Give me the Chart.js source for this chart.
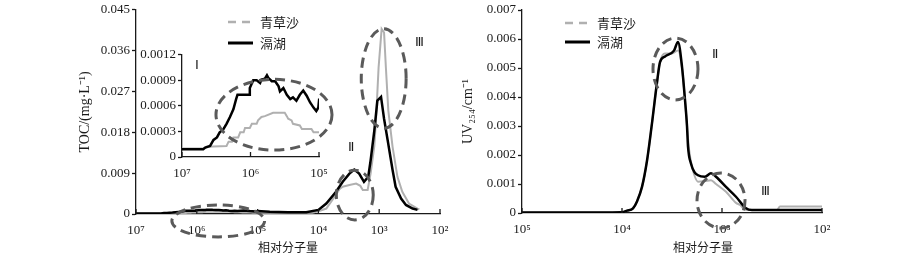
<!DOCTYPE html>
<html>
<head>
<meta charset="utf-8">
<script src="https://cdn.jsdelivr.net/npm/chart.js@4.4.1/dist/chart.umd.min.js"></script>
<style>
  body { margin: 0; background: #fff; }
  #wrap { position: relative; width: 900px; height: 260px; }
  canvas { position: absolute; }
</style>
</head>
<body>
<div id="wrap">
  <canvas id="tocChart" width="450" height="260" style="left:0;top:0"></canvas>
  <canvas id="insetChart" width="210" height="140" style="left:137px;top:45px"></canvas>
  <canvas id="uvChart" width="450" height="260" style="left:450px;top:0"></canvas>
</div>
<script>
// series names
var seriesNames = ['青草沙', '滆湖'];

// TOC, 青草沙 (log10 of relative molecular weight, value in mg/L)
var lgMwQcsToc = [7.0, 6.69, 6.64, 6.35, 6.32, 6.27, 6.25, 6.18, 6.15, 6.10, 6.08, 6.01, 5.98, 5.91, 5.89, 5.84, 5.79, 5.67, 5.50, 5.47,
  5.45, 5.40, 5.38, 5.28, 5.25, 5.11, 5.08, 5.00, 4.80, 4.40, 4.10, 4.00, 3.87, 3.75, 3.65, 3.60, 3.49, 3.38, 3.31, 3.27,
  3.19, 3.14, 3.08, 3.05, 3.01, 2.96, 2.92, 2.89, 2.85, 2.78, 2.70, 2.62, 2.51, 2.37, 2.34];
var tocQcs = [0.0001, 0.0001, 0.00012, 0.00013, 0.00018, 0.00018, 0.00023, 0.00023, 0.00029, 0.00029, 0.00034, 0.00034, 0.00039, 0.00039, 0.00043, 0.00047, 0.00048, 0.00052, 0.00052, 0.00048,
  0.00045, 0.00043, 0.00039, 0.00037, 0.00033, 0.00033, 0.00029, 0.00029, 0.0003, 0.0003, 0.0003, 0.0006, 0.0012, 0.0035, 0.0055, 0.006, 0.0064, 0.0067, 0.0062, 0.0053,
  0.0053, 0.009, 0.015, 0.0214, 0.0323, 0.0408, 0.040, 0.0323, 0.0228, 0.0148, 0.0082, 0.0049, 0.0023, 0.0012, 0.001];

// TOC, 滆湖
var lgMwGhToc = [7.0, 6.69, 6.66, 6.59, 6.54, 6.49, 6.45, 6.40, 6.35, 6.30, 6.25, 6.21, 6.19, 6.02, 6.01, 5.96, 5.91, 5.86, 5.84, 5.79,
  5.76, 5.74, 5.69, 5.64, 5.59, 5.57, 5.52, 5.47, 5.42, 5.38, 5.33, 5.28, 5.23, 5.18, 5.13, 5.08, 5.04, 5.01, 5.00, 4.80,
  4.50, 4.20, 4.00, 3.87, 3.71, 3.60, 3.49, 3.41, 3.33, 3.25, 3.18, 3.14, 3.08, 3.03, 2.97, 2.92, 2.86, 2.78, 2.73, 2.64,
  2.56, 2.45, 2.37];
var tocGh = [0.00009, 0.00009, 0.00011, 0.00013, 0.0002, 0.00023, 0.00029, 0.00032, 0.00039, 0.00047, 0.00056, 0.00068, 0.00073, 0.00073, 0.00081, 0.0009, 0.0009, 0.00087, 0.00091, 0.00092,
  0.00096, 0.00093, 0.00089, 0.00089, 0.00083, 0.00077, 0.00081, 0.00073, 0.00068, 0.0007, 0.00066, 0.00073, 0.00078, 0.00072, 0.00064, 0.00058, 0.00054, 0.00058, 0.00066, 0.0005,
  0.0004, 0.0004, 0.0009, 0.0023, 0.0049, 0.0071, 0.0089, 0.0098, 0.0089, 0.0071, 0.0082, 0.0119, 0.0184, 0.025, 0.0258, 0.021, 0.0162, 0.0097, 0.006, 0.0034,
  0.002, 0.0012, 0.0009];

// UV254, 青草沙
var lgMwQcsUv = [5.0, 4.5, 4.0, 3.95, 3.89, 3.85, 3.80, 3.75, 3.70, 3.65, 3.62, 3.57, 3.50, 3.44, 3.40, 3.37, 3.35, 3.33, 3.30, 3.24,
  3.17, 3.11, 3.06, 2.96, 2.86, 2.82, 2.76, 2.45, 2.42, 2.0];
var uvQcs = [0.00002, 0.00002, 0.00003, 0.00008, 0.00016, 0.0004, 0.0009, 0.0018, 0.0031, 0.0045, 0.0052, 0.0055, 0.0055, 0.0056, 0.005, 0.0039, 0.003, 0.0022, 0.0016, 0.00108,
  0.0011, 0.00113, 0.001, 0.00073, 0.00035, 0.00028, 0.0001, 0.0001, 0.00022, 0.00022];

// UV254, 滆湖
var lgMwGhUv = [5.0, 4.5, 4.0, 3.95, 3.89, 3.85, 3.80, 3.75, 3.70, 3.65, 3.62, 3.57, 3.48, 3.44, 3.40, 3.37, 3.35, 3.34, 3.31, 3.24,
  3.17, 3.11, 3.06, 2.96, 2.86, 2.76, 2.70, 2.0];
var uvGh = [0.00002, 0.00002, 0.00003, 0.00008, 0.00016, 0.0004, 0.0009, 0.0018, 0.0031, 0.0045, 0.0052, 0.0054, 0.0056, 0.0059, 0.00505, 0.0039, 0.003, 0.0023, 0.0017, 0.0013,
  0.00125, 0.00137, 0.00125, 0.0009, 0.00056, 0.00016, 0.0001, 0.0001];

// tick labels
var mwTicksToc = [1e7, 1e6, 1e5, 1e4, 1e3, 1e2];
var mwTicksInset = [1e7, 1e6, 1e5];
var mwTicksUv = [1e5, 1e4, 1e3, 1e2];
var tocTicks = [0, 0.009, 0.018, 0.027, 0.036, 0.045];
var insetTicks = [0, 0.0003, 0.0006, 0.0009, 0.0012];
var uvTicks = [0, 0.001, 0.002, 0.003, 0.004, 0.005, 0.006, 0.007];

var serif = '"Liberation Serif", "Times New Roman", serif';
var cjk = '"Noto Sans CJK SC", sans-serif';
var ink = '#1a1a1a';
var grey = '#b0b0b0';
var sup = ['⁰', '¹', '²', '³', '⁴', '⁵', '⁶', '⁷', '⁸', '⁹'];

function powLabel(v) { return '10' + sup[Math.round(Math.log10(v))]; }
function pts(lg, vals) { return lg.map(function (l, i) { return { x: Math.pow(10, l), y: vals[i] }; }); }

function makeSets(qcsLg, qcsVals, ghLg, ghVals, smooth) {
  return [
    { label: seriesNames[0], data: pts(qcsLg, qcsVals), borderColor: grey, borderWidth: 2, pointRadius: 0, order: 1,
      legendDash: [8, 6], cubicInterpolationMode: smooth ? 'monotone' : 'default', tension: 0 },
    { label: seriesNames[1], data: pts(ghLg, ghVals), borderColor: '#000', borderWidth: 2.5, pointRadius: 0, order: 0,
      legendDash: [], cubicInterpolationMode: smooth ? 'monotone' : 'default', tension: 0 }
  ];
}

function xScale(min, max, ticks, height, title) {
  return {
    type: 'logarithmic', reverse: true, min: min, max: max,
    afterBuildTicks: function (s) { s.ticks = ticks.map(function (v) { return { value: v }; }); },
    afterFit: function (s) { s.height = height; s.paddingLeft = 0; s.paddingRight = 0; },
    grid: { display: false, drawTicks: false },
    border: { display: true, color: ink, width: 1.3 },
    ticks: { autoSkip: false, maxRotation: 0, padding: 9, color: ink, font: { family: serif, size: 13 }, callback: powLabel },
    title: title ? { display: true, text: title, color: ink, font: { family: cjk, size: 12 }, padding: { top: 0, bottom: 1 } } : { display: false }
  };
}

function yScale(max, ticks, width, title, titlePad) {
  return {
    min: 0, max: max,
    afterBuildTicks: function (s) { s.ticks = ticks.map(function (v) { return { value: v }; }); },
    afterFit: function (s) { s.width = width; },
    grid: { drawOnChartArea: false, drawTicks: true, tickLength: 4, tickWidth: 1.3, tickColor: ink },
    border: { display: true, color: ink, width: 1.3 },
    ticks: { padding: 2, color: ink, font: { family: serif, size: 13 }, callback: function (v) { return String(v); } },
    title: title ? { display: true, text: title, color: ink, font: { family: serif, size: 14 }, padding: { top: titlePad, bottom: 0 } } : { display: false }
  };
}

// inward x ticks, dashed ellipses, roman numerals, legend
var decor = {
  id: 'decor',
  afterDatasetsDraw: function (chart, args, opts) {
    var ctx = chart.ctx, a = chart.chartArea, x = chart.scales.x, y = chart.scales.y;
    var px = function (lg) { return x.getPixelForValue(Math.pow(10, lg)); };
    ctx.save();
    ctx.strokeStyle = ink; ctx.lineWidth = 1.3;
    x.ticks.forEach(function (t) {
      var p = x.getPixelForValue(t.value);
      ctx.beginPath(); ctx.moveTo(p, a.bottom); ctx.lineTo(p, a.bottom - 5); ctx.stroke();
    });
    (opts.ellipses || []).forEach(function (e) {
      var x0 = px(e[0]), x1 = px(e[1]), y0 = y.getPixelForValue(e[2]), y1 = y.getPixelForValue(e[3]);
      ctx.beginPath();
      ctx.setLineDash([10, 6]);
      ctx.strokeStyle = '#5a5a5a'; ctx.lineWidth = 3;
      ctx.ellipse((x0 + x1) / 2, (y0 + y1) / 2, Math.abs(x1 - x0) / 2, Math.abs(y1 - y0) / 2, 0, 0, Math.PI * 2);
      ctx.stroke();
    });
    ctx.setLineDash([]);
    ctx.fillStyle = ink;
    ctx.textAlign = 'center'; ctx.textBaseline = 'middle';
    ctx.font = '13px ' + serif;
    (opts.numerals || []).forEach(function (n) {
      ctx.fillText(n[2], px(n[0]), y.getPixelForValue(n[1]));
    });
    if (opts.legend) {
      var L = opts.legend;
      chart.data.datasets.forEach(function (ds, i) {
        var ly = L.y + i * L.gap;
        ctx.beginPath();
        ctx.setLineDash(ds.legendDash);
        ctx.strokeStyle = ds.borderColor; ctx.lineWidth = ds.borderWidth + 0.5;
        ctx.moveTo(L.x, ly); ctx.lineTo(L.x + 25, ly); ctx.stroke();
        ctx.setLineDash([]);
        ctx.textAlign = 'left';
        ctx.font = '13px ' + cjk;
        ctx.fillText(ds.label, L.x + 32, ly);
      });
    }
    (opts.texts || []).forEach(function (t) {
      ctx.textAlign = 'center';
      ctx.font = t.font;
      ctx.fillText(t.text, t.x, t.y);
    });
    ctx.restore();
  }
};

Chart.defaults.animation = false;
Chart.defaults.responsive = false;
Chart.defaults.devicePixelRatio = 1;
Chart.defaults.plugins.legend.display = false;
Chart.defaults.plugins.tooltip.enabled = false;

new Chart('tocChart', {
  type: 'line',
  data: { datasets: makeSets(lgMwQcsToc, tocQcs, lgMwGhToc, tocGh, false) },
  options: {
    layout: { padding: { left: 0, top: 9, right: 10, bottom: 4 } },
    scales: {
      x: xScale(1e2, 1e7, mwTicksToc, 42, '相对分子量'),
      y: yScale(0.045, tocTicks, 136, 'TOC/(mg·L⁻¹)', 77)
    },
    plugins: {
      decor: {
        ellipses: [[6.41, 4.885, 0.00198, -0.00505], [3.705, 3.098, 0.00966, -0.00132], [3.295, 2.557, 0.0408, 0.0189]],
        numerals: [[2.344, 0.0378, 'Ⅲ'], [3.459, 0.0147, 'Ⅱ']],
        legend: { x: 228, y: 22, gap: 21 }
      }
    }
  },
  plugins: [decor]
});

new Chart('insetChart', {
  type: 'line',
  data: { datasets: makeSets(lgMwQcsToc, tocQcs, lgMwGhToc, tocGh, false) },
  options: {
    layout: { padding: { left: 0, top: 8, right: 28, bottom: 0 } },
    scales: {
      x: xScale(1e5, 1e7, mwTicksInset, 28, null),
      y: yScale(0.0012, insetTicks, 45, null, 0)
    },
    plugins: {
      decor: {
        ellipses: [[6.504, 4.81, 0.000912, 0.0000808]],
        numerals: [[6.78, 0.00107, 'Ⅰ']]
      }
    }
  },
  plugins: [decor]
});

new Chart('uvChart', {
  type: 'line',
  data: { datasets: makeSets(lgMwQcsUv, uvQcs, lgMwGhUv, uvGh, true) },
  options: {
    layout: { padding: { left: 0, top: 10, right: 78, bottom: 4 } },
    scales: {
      x: xScale(1e2, 1e5, mwTicksUv, 43, null),
      y: yScale(0.007, uvTicks, 72, 'UV₂₅₄/cm⁻¹', 10)
    },
    plugins: {
      decor: {
        ellipses: [[3.69, 3.24, 0.00603, 0.0039], [3.25, 2.77, 0.00138, -0.00052]],
        numerals: [[3.07, 0.00545, 'Ⅱ'], [2.57, 0.00073, 'Ⅲ']],
        legend: { x: 115, y: 23, gap: 19 },
        texts: [{ text: '相对分子量', x: 253, y: 247, font: '12px ' + cjk }]
      }
    }
  },
  plugins: [decor]
});
</script>
</body>
</html>
